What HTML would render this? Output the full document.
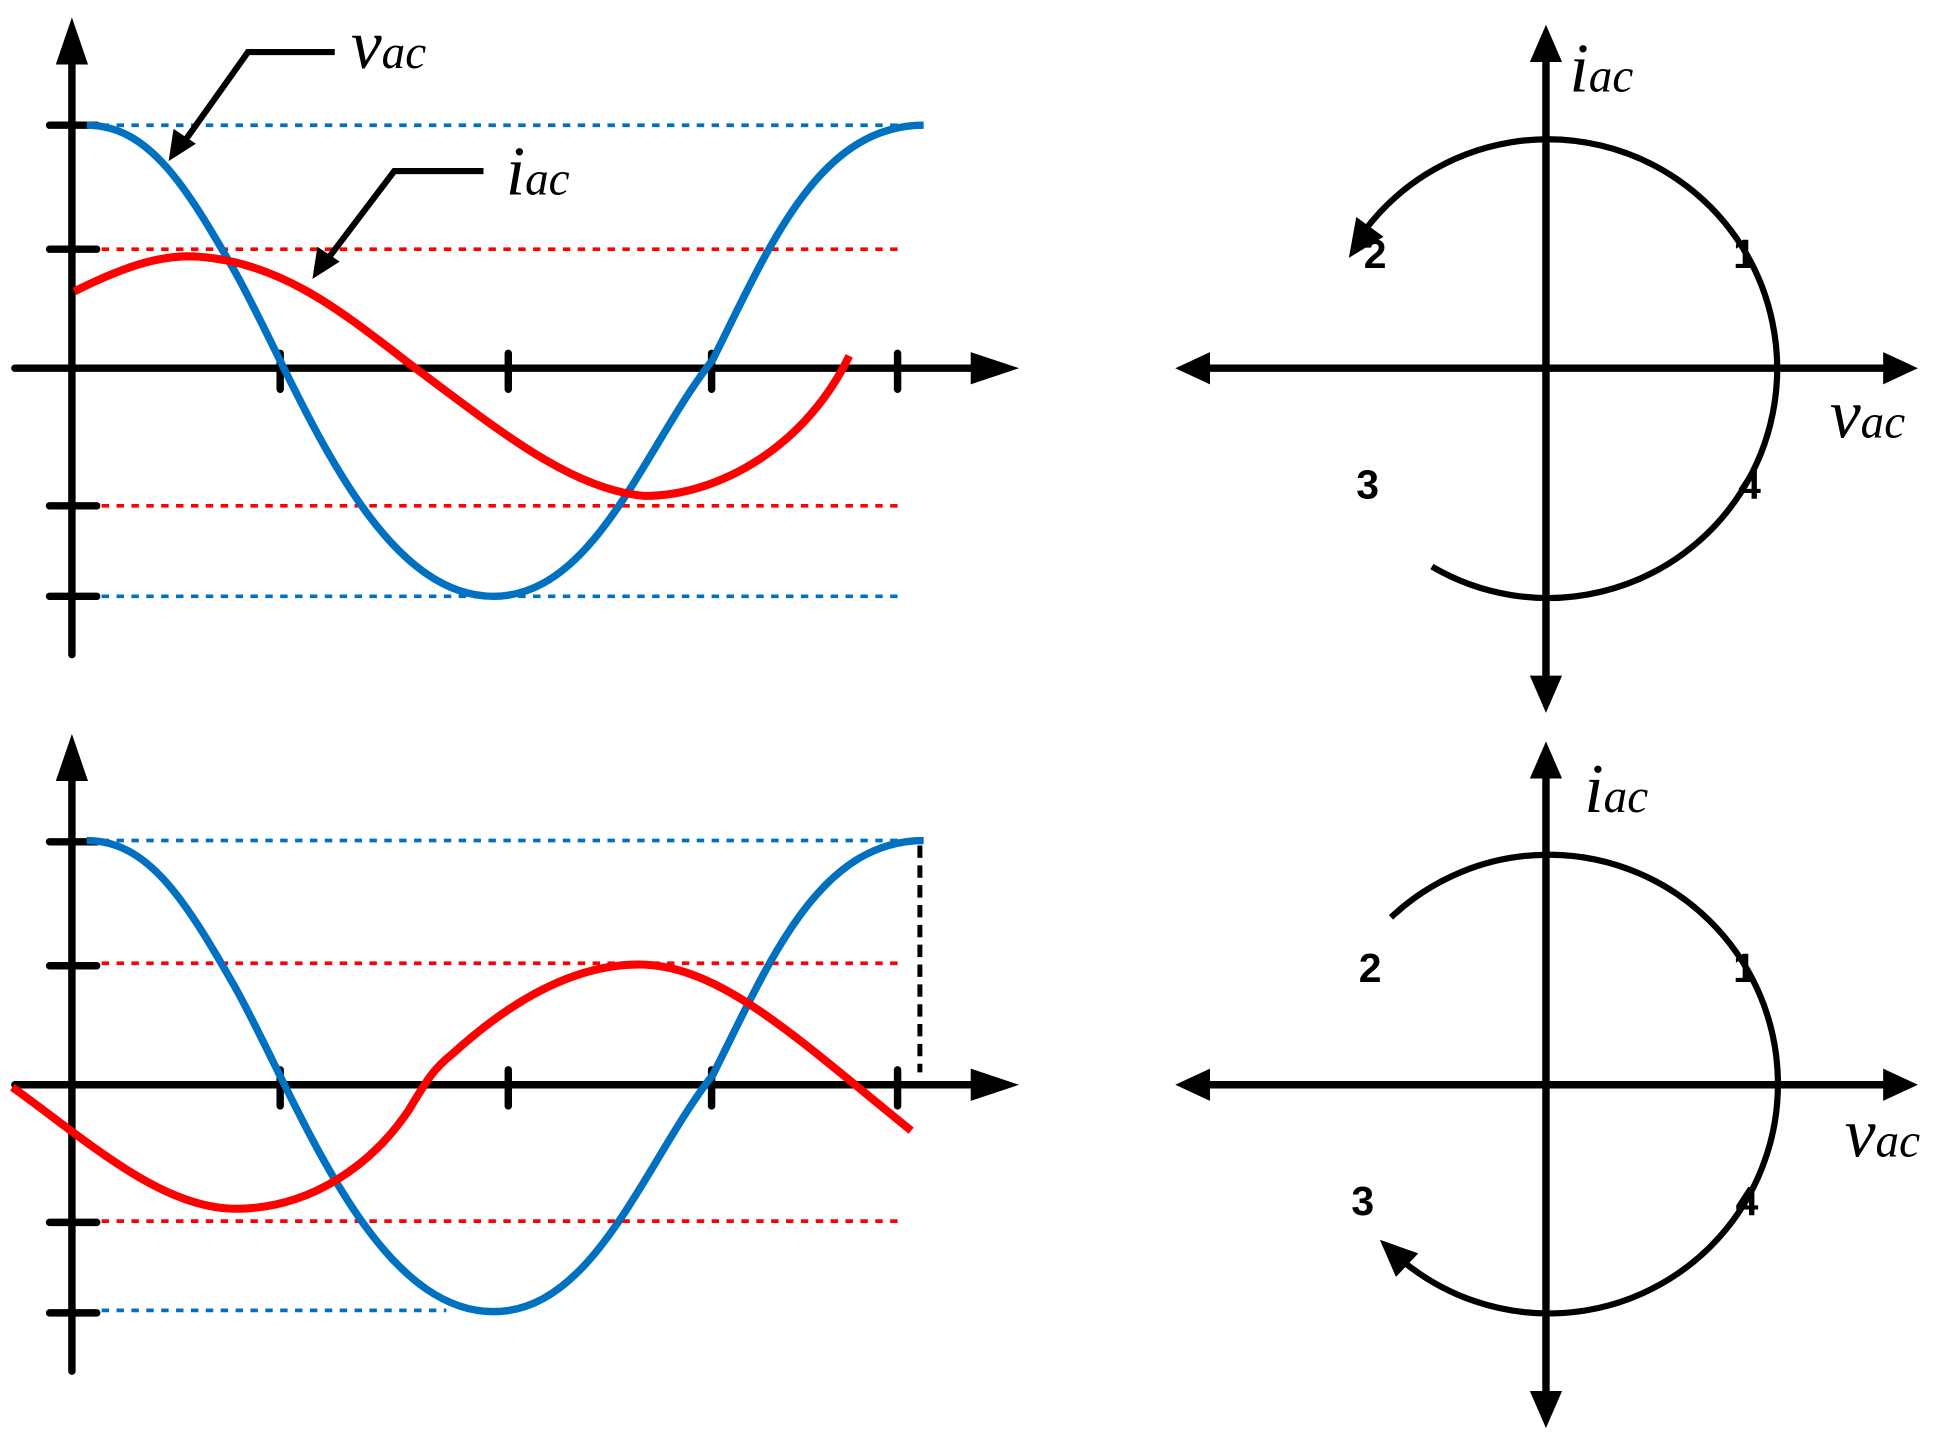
<!DOCTYPE html>
<html><head><meta charset="utf-8"><style>html,body{margin:0;padding:0;background:#fff}svg{display:block}</style></head>
<body>
<svg width="1934" height="1435" viewBox="0 0 1560 1157.5" preserveAspectRatio="none" xmlns="http://www.w3.org/2000/svg">
<defs>
<g id="chartbase">
  <line x1="58" y1="40" x2="58" y2="528" stroke="#000" stroke-width="6" stroke-linecap="round"/>
  <polygon points="58,14 45,52 71,52" fill="#000"/>
  <line x1="12" y1="297" x2="790" y2="297" stroke="#000" stroke-width="6" stroke-linecap="round"/>
  <polygon points="822,297 783,284 783,310" fill="#000"/>
  <g stroke="#000" stroke-width="6" stroke-linecap="round">
    <line x1="40" y1="101" x2="78" y2="101"/><line x1="40" y1="201" x2="78" y2="201"/>
    <line x1="40" y1="408" x2="78" y2="408"/><line x1="40" y1="481" x2="78" y2="481"/>
    <line x1="226" y1="285" x2="226" y2="314"/><line x1="410" y1="285" x2="410" y2="314"/>
    <line x1="574" y1="285" x2="574" y2="314"/><line x1="724" y1="285" x2="724" y2="314"/>
  </g>
</g>
</defs>
<use href="#chartbase"/>
<g stroke-width="3" stroke-dasharray="6,6" fill="none">
  <line x1="82" y1="101" x2="745" y2="101" stroke="#0070c0"/>
  <line x1="82" y1="481" x2="730" y2="481" stroke="#0070c0"/>
  <line x1="82" y1="201" x2="730" y2="201" stroke="#ff0000"/>
  <line x1="82" y1="408" x2="730" y2="408" stroke="#ff0000"/>
</g>
<path d="M70,101 C120,101 150,150 190,220 C240,310 300,481 398,481 C480,481 520,360 575,290 C620,200 660,101 745,101" fill="none" stroke="#0070c0" stroke-width="6"/>
<path d="M60,235 C100,215 130,205 160,207 C230,212 280,255 335,297 C400,345 460,395 520,400 C580,400 650,360 685,287" fill="none" stroke="#ff0000" stroke-width="6.5"/>
<polyline points="270,42 200,42 146,118" fill="none" stroke="#000" stroke-width="5"/>
<polygon points="136,130 140,104 158,116" fill="#000"/>
<polyline points="390,138 318,138 262,212" fill="none" stroke="#000" stroke-width="5"/>
<polygon points="252,225 256,199 274,211" fill="#000"/>
<text x="283" y="55" font-family="Liberation Serif, serif" font-style="italic"><tspan font-size="56">v</tspan><tspan font-size="38">ac</tspan></text>
<text x="408" y="157" font-family="Liberation Serif, serif" font-style="italic"><tspan font-size="56">i</tspan><tspan font-size="38">ac</tspan></text>

<use href="#chartbase" transform="translate(0,578)"/>
<g stroke-width="3" stroke-dasharray="6,6" fill="none">
  <line x1="82" y1="678" x2="745" y2="678" stroke="#0070c0"/>
  <line x1="82" y1="1057" x2="360" y2="1057" stroke="#0070c0"/>
  <line x1="82" y1="777" x2="730" y2="777" stroke="#ff0000"/>
  <line x1="82" y1="985" x2="730" y2="985" stroke="#ff0000"/>
</g>
<line x1="742" y1="682" x2="742" y2="865" stroke="#000" stroke-width="4" stroke-dasharray="10,6"/>
<path d="M70,678 C120,678 150,727 190,797 C240,887 300,1058 398,1058 C480,1058 520,937 575,867 C620,777 660,678 745,678" fill="none" stroke="#0070c0" stroke-width="6"/>
<path d="M10,877 C70,920 130,975 190,975 C250,975 300,940 330,895 C345,870 350,862 365,850 C420,800 470,778 515,778 C580,778 640,835 735,912" fill="none" stroke="#ff0000" stroke-width="6.5"/>

<g stroke="#000" stroke-width="6">
  <line x1="1247" y1="45" x2="1247" y2="550"/>
  <line x1="972" y1="297" x2="1522" y2="297"/>
  <line x1="1247" y1="622" x2="1247" y2="1127"/>
  <line x1="972" y1="875" x2="1522" y2="875"/>
</g>
<g fill="#000">
  <polygon points="1247,20 1234,50 1260,50"/><polygon points="1247,575 1234,545 1260,545"/>
  <polygon points="948,297 976,284 976,310"/><polygon points="1547,297 1519,284 1519,310"/>
  <polygon points="1247,598 1234,628 1260,628"/><polygon points="1247,1152 1234,1122 1260,1122"/>
  <polygon points="948,875 976,862 976,888"/><polygon points="1547,875 1519,862 1519,888"/>
</g>
<path d="M1155,457 A185,185 0 1 0 1100,187" fill="none" stroke="#000" stroke-width="5"/>
<polygon points="1088,208 1116,191 1094,175" fill="#000"/>
<path d="M1122,740 A185,185 0 1 1 1130,1016" fill="none" stroke="#000" stroke-width="5"/>
<polygon points="1113,1000 1144,1011 1126,1030" fill="#000"/>
<g font-family="Liberation Sans, sans-serif" font-weight="bold" font-size="33" fill="#000">
  <text x="1100" y="216">2</text><text x="1398" y="216">1</text>
  <text x="1094" y="402">3</text><text x="1402" y="402">4</text>
  <text x="1096" y="792">2</text><text x="1398" y="792">1</text>
  <text x="1090" y="980">3</text><text x="1400" y="980">4</text>
</g>
<g font-family="Liberation Serif, serif" font-style="italic">
  <text x="1266" y="74"><tspan font-size="56">i</tspan><tspan font-size="38">ac</tspan></text>
  <text x="1476" y="353"><tspan font-size="56">v</tspan><tspan font-size="38">ac</tspan></text>
  <text x="1278" y="655"><tspan font-size="56">i</tspan><tspan font-size="38">ac</tspan></text>
  <text x="1488" y="933"><tspan font-size="56">v</tspan><tspan font-size="38">ac</tspan></text>
</g>
</svg>
</body></html>
